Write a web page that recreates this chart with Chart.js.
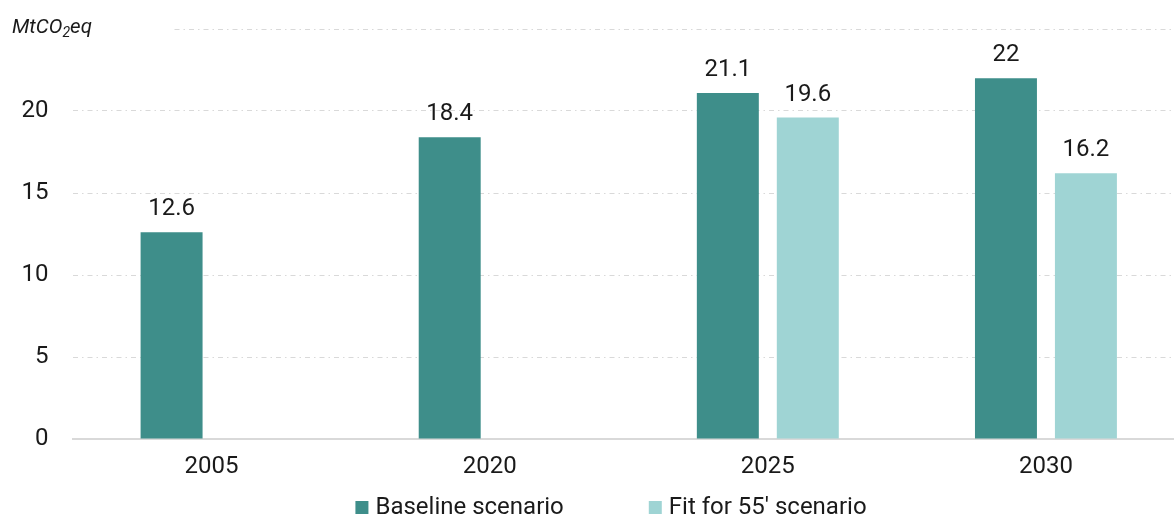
<!DOCTYPE html>
<html>
<head>
<meta charset="utf-8">
<script src="https://cdn.jsdelivr.net/npm/chart.js@4"></script>
<style>
  html, body { margin: 0; padding: 0; overflow: hidden; background: #fff; }
  .chart-wrap { width: 1185px; height: 516px; }
</style>
</head>
<body>
<div class="chart-wrap"><canvas id="emissionsChart" width="1185" height="516"></canvas></div>
<script>
const years = ['2005', '2020', '2025', '2030'];
const baselineScenario = [12.6, 18.4, 21.1, 22];
const fitFor55Scenario = [null, null, 19.6, 16.2];
const seriesNames = ['Baseline scenario', "Fit for 55' scenario"];
const seriesColors = ['#3e8e8a', '#9fd4d4'];

const FONT = 'Roboto, "Noto Sans", sans-serif';
const TEXT = '#1a1a1a';

// unit title with a real subscript, plus a white strip so the top grid line starts after it
const unitTitle = {
    id: 'unitTitle',
    beforeDatasetsDraw(chart) {
        const ctx = chart.ctx;
        ctx.save();
        ctx.fillStyle = '#fff';
        ctx.fillRect(0, chart.chartArea.top - 4, 173, 8);
        ctx.restore();
    },
    afterDraw(chart) {
        const ctx = chart.ctx;
        ctx.save();
        ctx.fillStyle = TEXT;
        ctx.textBaseline = 'alphabetic';
        let x = 12;
        ctx.font = `italic 20.5px ${FONT}`;
        ctx.fillText('MtCO', x, 33);
        x += ctx.measureText('MtCO').width;
        ctx.font = `italic 14px ${FONT}`;
        ctx.fillText('2', x, 37);
        x += ctx.measureText('2').width;
        ctx.font = `italic 20.5px ${FONT}`;
        ctx.fillText('eq', x, 33);
        ctx.restore();
    }
};

// value printed above each bar
const barValues = {
    id: 'barValues',
    afterDatasetsDraw(chart) {
        const ctx = chart.ctx;
        ctx.save();
        ctx.font = `24px ${FONT}`;
        ctx.fillStyle = TEXT;
        ctx.textAlign = 'center';
        ctx.textBaseline = 'alphabetic';
        chart.data.datasets.forEach((ds, i) => {
            chart.getDatasetMeta(i).data.forEach((bar, j) => {
                const v = ds.data[j];
                if (v === null || v === undefined) return;
                ctx.fillText(String(v), bar.x, bar.y - 17);
            });
        });
        ctx.restore();
    }
};

// legend row under the axis
const bottomLegend = {
    id: 'bottomLegend',
    afterDraw(chart) {
        const ctx = chart.ctx;
        const box = 13, gapText = 7, gapItem = 85, centerX = 611, baseY = 514;
        ctx.save();
        ctx.font = `24px ${FONT}`;
        ctx.textBaseline = 'alphabetic';
        const items = chart.data.datasets.map(ds => ({
            text: ds.label,
            color: ds.backgroundColor,
            w: box + gapText + ctx.measureText(ds.label).width
        }));
        const total = items.reduce((s, it) => s + it.w, 0) + gapItem * (items.length - 1);
        let x = centerX - total / 2;
        items.forEach(it => {
            ctx.fillStyle = it.color;
            ctx.fillRect(x, baseY - box, box, box);
            ctx.fillStyle = TEXT;
            ctx.fillText(it.text, x + box + gapText, baseY);
            x += it.w + gapItem;
        });
        ctx.restore();
    }
};

const ctx = document.getElementById('emissionsChart').getContext('2d');

new Chart(ctx, {
    type: 'bar',
    data: {
        labels: years,
        datasets: [
            {
                label: seriesNames[0],
                data: baselineScenario,
                backgroundColor: seriesColors[0],
                categoryPercentage: 0.575,
                barPercentage: 0.775
            },
            {
                label: seriesNames[1],
                data: fitFor55Scenario,
                backgroundColor: seriesColors[1],
                categoryPercentage: 0.575,
                barPercentage: 0.775
            }
        ]
    },
    options: {
        responsive: false,
        animation: false,
        layout: { padding: { top: 29, left: 0, right: 0, bottom: 0 } },
        plugins: {
            legend: { display: false },
            tooltip: { enabled: false }
        },
        scales: {
            x: {
                grid: { display: false, drawTicks: false },
                border: { display: true, color: '#d9d9d9', width: 2 },
                ticks: {
                    color: TEXT,
                    font: { family: FONT, size: 24 },
                    padding: 14
                },
                afterFit(scale) {
                    scale.height = 77;
                    scale.paddingLeft = 0;
                    scale.paddingRight = 0;
                }
            },
            y: {
                min: 0,
                max: 25,
                ticks: {
                    stepSize: 5,
                    color: TEXT,
                    font: { family: FONT, size: 24 },
                    padding: 24,
                    callback: v => (v === 25 ? '' : v)
                },
                grid: {
                    color: '#d9d9d9',
                    lineWidth: 1,
                    drawTicks: false
                },
                border: { display: false, dash: [5, 4, 1.5, 4] },
                afterFit(scale) {
                    scale.width = 72.5;
                    scale.paddingTop = 0;
                    scale.paddingBottom = 0;
                }
            }
        }
    },
    plugins: [unitTitle, barValues, bottomLegend]
});
</script>
</body>
</html>
